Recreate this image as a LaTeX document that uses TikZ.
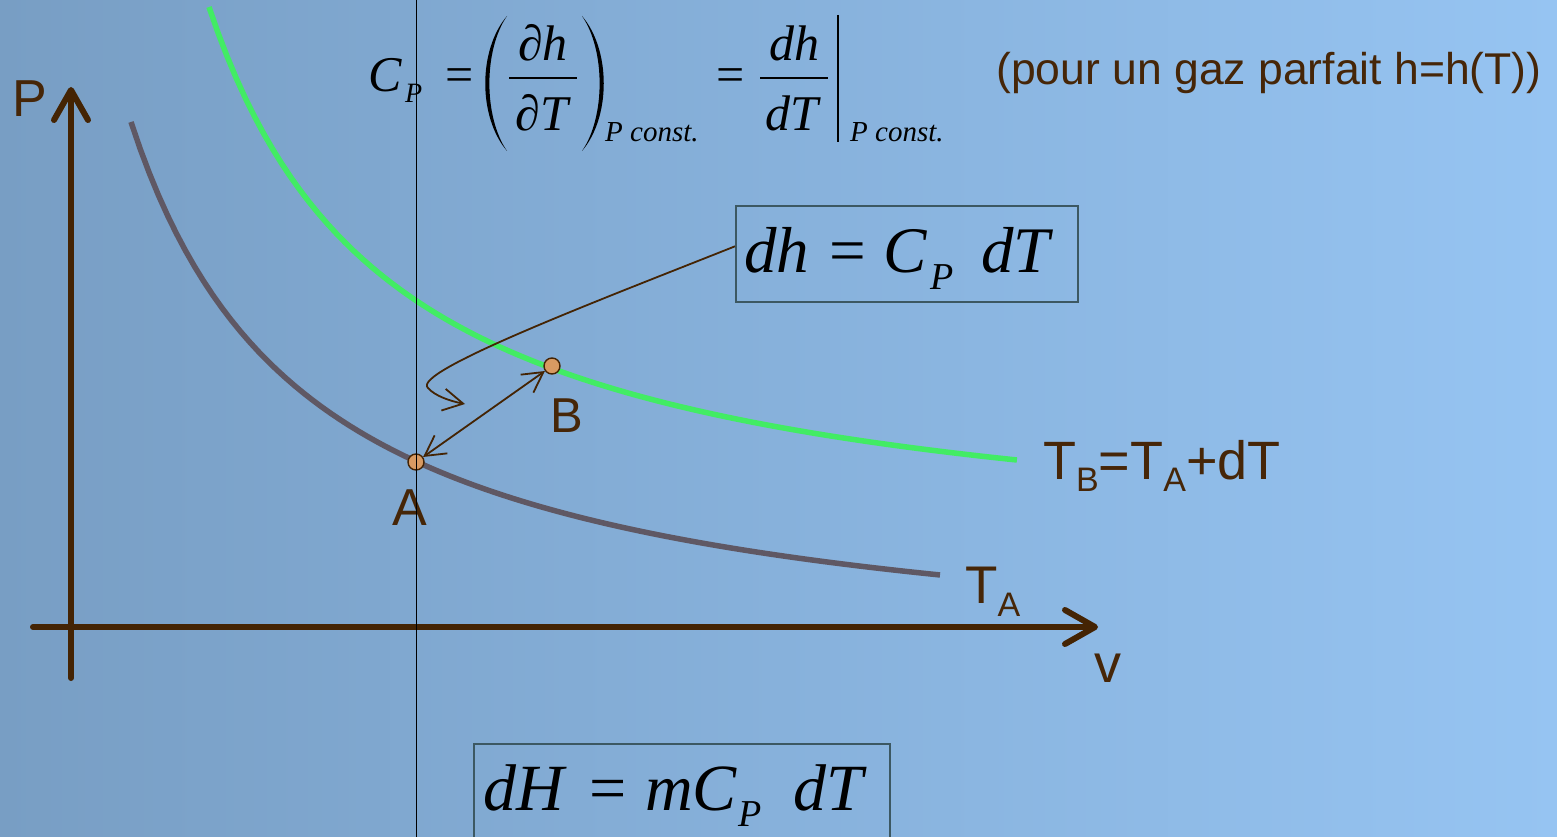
\documentclass[tikz,border=0pt]{standalone}
\usepackage{fontspec}
\setmainfont{Liberation Sans}
\newfontfamily\tms{Liberation Serif}
\usetikzlibrary{arrows.meta}
\definecolor{bgl}{RGB}{120,158,196}
\definecolor{bgr}{RGB}{150,196,242}
\definecolor{txtc}{RGB}{70,38,8}
\definecolor{axc}{RGB}{68,36,4}
\definecolor{grayc}{RGB}{95,88,100}
\definecolor{greenc}{RGB}{66,236,100}
\definecolor{boxc}{RGB}{60,88,98}
\definecolor{dotc}{RGB}{216,154,98}
\newcommand\fsz[1]{\fontsize{#1}{#1}\selectfont}
\newcommand\lsub[2]{\raisebox{-#1pt}{\fsz{34}#2}}
\begin{document}
\begin{tikzpicture}[x=1pt,y=-1pt,
  lbl/.style={inner sep=0, text=txtc, font=\fsz{52}},
  mth/.style={inner sep=0, text=black, anchor=base west, font={\tms\itshape\fsz{#1}}},
  mth/.default=50,
  axis/.style={draw=axc, line width=6pt, line cap=round, -{Straight Barb[length=30pt,width=34pt,round]}},
  dot/.style={circle, minimum size=16pt, inner sep=0, fill=dotc, draw=axc, line width=1.4pt},
  thinarr/.style={draw=axc, line width=1.8pt, {Straight Barb[length=20pt,width=22pt]}-{Straight Barb[length=20pt,width=22pt]}},
  curlarr/.style={draw=axc, line width=1.8pt, -{Straight Barb[length=20pt,width=22pt]}},
  eqbox/.style={draw=boxc, line width=1.6pt, inner sep=0, anchor=north west},
  isoA/.style={draw=grayc, line width=5.5pt},
  isoB/.style={draw=greenc, line width=5.5pt},
  frac/.style={draw=black, line width=2.2pt}
]
\useasboundingbox (0,0) rectangle (1557,837);
\clip (0,0) rectangle (1557,837);
\shade[left color=bgl, right color=bgr] (0,0) rectangle (1557,837);

% axes
\coordinate (xs) at (33,627);
\coordinate (xe) at (1098,627);
\coordinate (ys) at (71,678);
\coordinate (ye) at (71,87);
\draw[axis] (xs) -- (xe);
\draw[axis] (ys) -- (ye);
\node[lbl, anchor=base west] (Plab) at (12,117) {P};
\node[lbl, anchor=base, font=\fsz{54}] (vlab) at (1108,682) {v};

% isotherms
\draw[isoA] plot[domain=0.60:8.69, samples=90] ({71+100*\x},{627-996.17/(\x+1.199)+48.7});
\draw[isoB] plot[domain=1.38:9.46, samples=90] ({71+100*\x},{627-1036.54/(\x+0.48)-62.7});
\node[lbl, anchor=base west, font=\fsz{53}] (TAlab) at (965,603) {T\lsub{13}{A}};
\node[lbl, anchor=base west, font=\fsz{54}] (TBlab) at (1043,479) {T\lsub{12}{B}=T\lsub{12}{A}+dT};

% points
\node[dot] (A) at (416,462) {};
\node[dot] (B) at (552,366) {};
\node[lbl, anchor=base] (Alab) at (410,525) {A};
\node[lbl, anchor=base, font=\fsz{49}] (Blab) at (567,432) {B};
\draw[thinarr] (A) -- (B);

% top formula
\node[mth] (c1) at (368,92) {C};
\node[mth=28] (c1s) at (405,103) {P};
\node[mth] (eq1) at (445,92) {\upshape =};
\fill (507,16) .. controls (478,50) and (478,117) .. (507,151) .. controls (483.5,117) and (483.5,50) .. (507,16);
\fill (582,16) .. controls (611,50) and (611,117) .. (582,151) .. controls (605.5,117) and (605.5,50) .. (582,16);
\coordinate (r1a) at (509,78);
\coordinate (r1b) at (577,78);
\draw[frac] (r1a) -- (r1b);
\node[mth, anchor=base] (n1) at (543,61) {∂h};
\node[mth, anchor=base] (d1) at (542,131) {∂T};
\node[mth=29] (s1) at (605,142) {P const.};
\node[mth] (eq2) at (716,92) {\upshape =};
\coordinate (r2a) at (760,78);
\coordinate (r2b) at (828,78);
\draw[frac] (r2a) -- (r2b);
\node[mth, anchor=base] (n2) at (794,61) {dh};
\node[mth, anchor=base] (d2) at (792,131) {dT};
\coordinate (bara) at (838,15);
\coordinate (barb) at (838,142);
\draw[black, line width=2.5pt] (bara) -- (barb);
\node[mth=29] (s2) at (850,142) {P const.};
\node[inner sep=0, anchor=base west, text=txtc, font=\fsz{44.5}] (pour) at (996,85) {(pour un gaz parfait h=h(T))};

% dh box
\node[eqbox, minimum width=342pt, minimum height=96pt] (dhbox) at (735,205) {};
\node[mth=65] (dh1) at (744,272) {dh};
\node[mth=65] (dh2) at (829,272) {\upshape =};
\node[mth=65] (dh3) at (883,272) {C};
\node[mth=38] (dh4) at (930,289) {P};
\node[mth=65] (dh5) at (981,272) {dT};
\draw[curlarr] ([yshift=7.5pt]dhbox.west) .. controls (600,300) and (410,372) .. (428,388) .. controls (435,396) and (450,401) .. (465,404);

% dH box
\node[eqbox, minimum width=416pt, minimum height=120pt] (dHbox) at (473,743) {};
\node[mth=66] (dH1) at (483,810) {dH};
\node[mth=66] (dH2) at (589,810) {\upshape =};
\node[mth=66] (dH3) at (645,810) {mC};
\node[mth=38] (dH4) at (738,826) {P};
\node[mth=66] (dH5) at (793,810) {dT};

% thin vertical line
\coordinate (vt) at (416,0);
\coordinate (vb) at (416,837);
\draw[black, line width=1pt] (vt) -- (vb);
\end{tikzpicture}
\end{document}
